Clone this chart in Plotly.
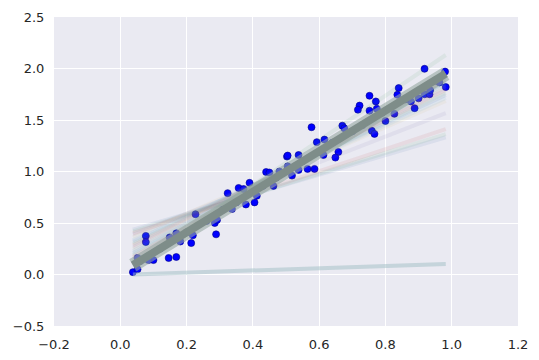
import plotly.graph_objects as go

# ---- data ----
x_data = [0.038, 0.052, 0.052, 0.077, 0.077, 0.100, 0.085, 0.146, 0.169, 0.149,
          0.169, 0.181, 0.214, 0.219, 0.227, 0.285, 0.289, 0.292, 0.324, 0.337,
          0.357, 0.372, 0.390, 0.379, 0.405, 0.412, 0.440, 0.450, 0.462, 0.480,
          0.503, 0.577, 0.670, 0.676, 0.593, 0.616, 0.505, 0.538, 0.613, 0.658,
          0.649, 0.565, 0.586, 0.538, 0.518, 0.918, 0.980, 0.982, 0.963, 0.840,
          0.836, 0.752, 0.771, 0.722, 0.717, 0.752, 0.774, 0.877, 0.900, 0.918,
          0.933, 0.935, 0.888, 0.800, 0.827, 0.759, 0.767, 0.505,
          0.060, 0.120, 0.200, 0.260, 0.310, 0.350, 0.430, 0.470, 0.550, 0.600,
          0.640, 0.700, 0.730, 0.790, 0.860, 0.950]
y_data = [0.023, 0.050, 0.160, 0.375, 0.315, 0.140, 0.140, 0.160, 0.170, 0.360,
          0.400, 0.320, 0.305, 0.380, 0.585, 0.500, 0.390, 0.530, 0.790, 0.635,
          0.840, 0.830, 0.890, 0.680, 0.700, 0.765, 0.995, 0.990, 0.860, 1.000,
          1.145, 1.430, 1.445, 1.420, 1.285, 1.310, 1.155, 1.160, 1.160, 1.190,
          1.135, 1.025, 1.025, 1.015, 0.960, 1.997, 1.970, 1.820, 1.865, 1.810,
          1.745, 1.735, 1.680, 1.640, 1.600, 1.590, 1.610, 1.680, 1.710, 1.750,
          1.750, 1.790, 1.615, 1.490, 1.560, 1.395, 1.365, 1.050,
          0.130, 0.250, 0.410, 0.520, 0.630, 0.700, 0.860, 0.940, 1.100, 1.190,
          1.280, 1.390, 1.450, 1.570, 1.700, 1.880]

# starting fit line
start_intercept = -0.005
start_slope = 0.11

# intermediate fit lines (intercept, slope)
fit_intercepts = [0.40, 0.38, 0.36, 0.34, 0.31, 0.28, 0.26, 0.24, 0.22, 0.20,
                  0.18, 0.16, 0.14, 0.12, 0.10, 0.08, 0.06, 0.045, 0.035, 0.00]
fit_slopes = [0.95, 1.00, 1.07, 1.25, 1.40, 1.46, 1.51, 1.55, 1.60, 1.64,
              1.68, 1.72, 1.76, 1.79, 1.83, 1.87, 1.90, 1.93, 1.95, 2.17]

# converged fit
final_intercept = 0.015
final_slope = 1.97

palette = ["#4C72B0", "#55A868", "#C44E52", "#8172B2", "#CCB974", "#64B5CD"]


def rgba(hex_color, a):
    h = hex_color.lstrip("#")
    r, g, b = int(h[0:2], 16), int(h[2:4], 16), int(h[4:6], 16)
    return f"rgba({r},{g},{b},{a})"


x_lo, x_hi = min(x_data), max(x_data)

fig = go.Figure()

fig.add_trace(go.Scatter(
    x=x_data, y=y_data, mode="markers",
    marker=dict(size=7, color="#0000ff", line=dict(width=0.6, color="#00008a")),
    hoverinfo="skip", showlegend=False))

# starting line
fig.add_trace(go.Scatter(
    x=[x_lo, x_hi],
    y=[start_intercept + start_slope * x_lo, start_intercept + start_slope * x_hi],
    mode="lines", line=dict(color="rgba(160,190,195,0.5)", width=4),
    hoverinfo="skip", showlegend=False))

for i, (b, m) in enumerate(zip(fit_intercepts, fit_slopes)):
    fig.add_trace(go.Scatter(
        x=[x_lo, x_hi], y=[b + m * x_lo, b + m * x_hi],
        mode="lines", line=dict(color=rgba(palette[i % 6], 0.10), width=4),
        hoverinfo="skip", showlegend=False))

# converged band
fig.add_trace(go.Scatter(
    x=[x_lo, x_hi],
    y=[final_intercept + final_slope * x_lo, final_intercept + final_slope * x_hi],
    mode="lines", line=dict(color="rgba(150,168,162,0.6)", width=14),
    hoverinfo="skip", showlegend=False))
fig.add_trace(go.Scatter(
    x=[x_lo, x_hi],
    y=[final_intercept + final_slope * x_lo, final_intercept + final_slope * x_hi],
    mode="lines", line=dict(color="#7e8d89", width=8),
    hoverinfo="skip", showlegend=False))

axis_common = dict(
    showgrid=True, gridcolor="white", gridwidth=1, zeroline=False,
    showline=False, ticks="outside", ticklen=6, tickcolor="rgba(0,0,0,0)",
    automargin=False,
    tickformat=".1f", tickfont=dict(family="DejaVu Sans", size=13, color="#262626"))

fig.update_layout(
    width=539, height=360,
    margin=dict(l=54, r=21, t=17, b=34),
    paper_bgcolor="white", plot_bgcolor="#EAEAF2",
    xaxis=dict(range=[-0.2, 1.2], dtick=0.2, tick0=0, **axis_common),
    yaxis=dict(range=[-0.5, 2.5], dtick=0.5, tick0=0, **axis_common),
)

fig.write_html("out.html", config={"displayModeBar": False},
               post_script="document.body.style.margin='0';")
